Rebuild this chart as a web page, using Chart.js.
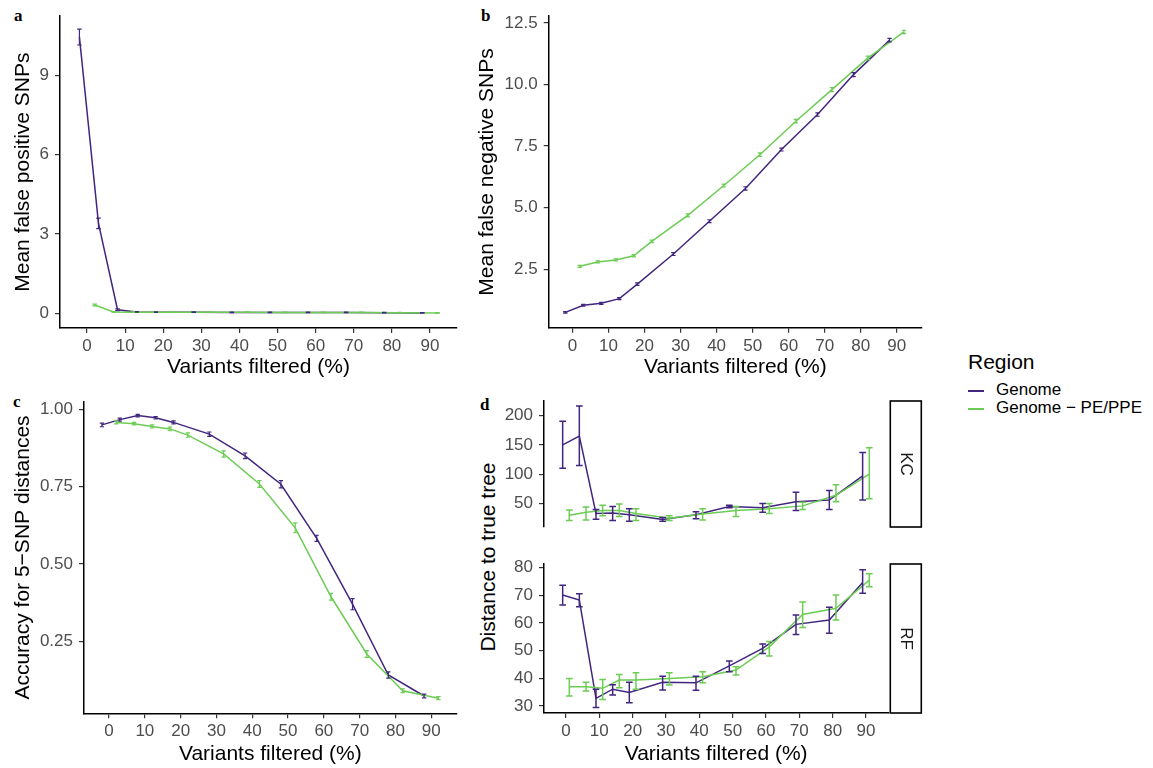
<!DOCTYPE html>
<html>
<head>
<meta charset="utf-8">
<script src="https://cdn.jsdelivr.net/npm/chart.js@4.4.0/dist/chart.umd.min.js"></script>
<style>
  body { margin: 0; background: #fff; width: 1153px; height: 768px; position: relative; overflow: hidden;
         font-family: "Liberation Sans", Arial, sans-serif; }
  canvas { position: absolute; }
  .tag { position: absolute; font: bold 17px/17px "Liberation Serif", serif; color: #000; }
  .txt { position: absolute; white-space: nowrap; color: #000; }
  .key { position: absolute; width: 16px; height: 2px; }
</style>
</head>
<body>
<div class="tag" style="left:14px; top:7px">a</div>
<div class="tag" style="left:481px; top:7px">b</div>
<div class="tag" style="left:13px; top:393px">c</div>
<div class="tag" style="left:480px; top:396px">d</div>

<div class="txt" style="left:488px; top:557px; font-size:21px; transform: translate(-50%, -50%) rotate(-90deg)">Distance to true tree</div>

<div class="txt" style="left:968px; top:349px; font-size:21px; line-height:25px">Region</div>
<div class="key" style="left:968px; top:390px; background:#41267F"></div>
<div class="txt" style="left:996px; top:380px; font-size:17px; line-height:20px">Genome</div>
<div class="key" style="left:968px; top:408px; background:#6CCC54"></div>
<div class="txt" style="left:996px; top:398px; font-size:17px; line-height:20px">Genome − PE/PPE</div>

<script>
const filtered = [0, 5, 10, 15, 20, 30, 40, 50, 60, 70, 80, 90];
const xTicks = [0, 10, 20, 30, 40, 50, 60, 70, 80, 90];
const regionNames = ['Genome', 'Genome − PE/PPE'];
const regionColors = ['#41267F', '#6CCC54'];

// a: mean false positive SNPs (mean and half error bar)
const fpGenome = [10.45, 3.4, 0.13, 0.05, 0.04, 0.04, 0.03, 0.03, 0.03, 0.03, 0.02, 0.01];
const fpGenomeErr = [0.3, 0.2, 0.03, 0.01, 0.01, 0.01, 0.01, 0.01, 0.01, 0.01, 0.01, 0.01];
const fpMasked = [0.31, 0.05, 0.04, 0.04, 0.04, 0.04, 0.04, 0.03, 0.03, 0.03, 0.02, 0.01];
const fpMaskedErr = [0.03, 0.01, 0.01, 0.01, 0.01, 0.01, 0.01, 0.01, 0.01, 0.01, 0.01, 0.01];
const fpTicks = [0, 3, 6, 9];

// b: mean false negative SNPs
const fnGenome = [0.75, 1.04, 1.12, 1.31, 1.9, 3.12, 4.45, 5.78, 7.36, 8.78, 10.4, 11.8];
const fnGenomeErr = [0.03, 0.04, 0.04, 0.04, 0.05, 0.06, 0.06, 0.07, 0.06, 0.07, 0.08, 0.07];
const fnMasked = [2.62, 2.8, 2.88, 3.05, 3.63, 4.69, 5.9, 7.15, 8.51, 9.79, 11.08, 12.13];
const fnMaskedErr = [0.04, 0.04, 0.04, 0.05, 0.05, 0.06, 0.06, 0.07, 0.07, 0.08, 0.07, 0.07];
const fnTicks = [2.5, 5, 7.5, 10, 12.5];
const fnLabels = ['2.5', '5.0', '7.5', '10.0', '12.5'];

// c: accuracy for 5-SNP distances
const accGenome = [0.95, 0.967, 0.98, 0.973, 0.958, 0.92, 0.85, 0.758, 0.583, 0.37, 0.141, 0.073];
const accGenomeErr = [0.006, 0.005, 0.004, 0.004, 0.005, 0.007, 0.009, 0.012, 0.01, 0.018, 0.01, 0.006];
const accMasked = [0.958, 0.954, 0.945, 0.937, 0.917, 0.856, 0.759, 0.617, 0.394, 0.209, 0.09, 0.066];
const accMaskedErr = [0.005, 0.004, 0.005, 0.006, 0.007, 0.01, 0.011, 0.016, 0.011, 0.011, 0.006, 0.005];
const accTicks = [0.25, 0.5, 0.75, 1];
const accLabels = ['0.25', '0.50', '0.75', '1.00'];

// d: distance to true tree, KC facet (mean, low, high)
const kcGenome = [150, 165, 33, 34, 31, 23, 31, 45, 43, 53, 56, 97];
const kcGenomeLo = [110, 115, 23, 21, 20, 20, 24, 43, 35, 38, 40, 56];
const kcGenomeHi = [190, 216, 40, 45, 41, 26, 36, 47, 50, 69, 72, 137];
const kcMasked = [30, 35, 38, 38, 33, 25, 32, 38, 41, 46, 64, 100];
const kcMaskedLo = [21, 22, 29, 28, 21, 21, 22, 28, 33, 40, 53, 58];
const kcMaskedHi = [39, 44, 47, 49, 41, 29, 41, 45, 50, 52, 82, 145];
const kcTicks = [50, 100, 150, 200];

// d: RF facet
const rfGenome = [70.1, 68.3, 32.8, 36.1, 34.9, 38.6, 38.4, 44.5, 50.8, 59.5, 61.1, 74.6];
const rfGenomeLo = [66.5, 65.9, 29.5, 34, 31.2, 35.8, 35.7, 42.4, 49, 55.8, 56.3, 70.7];
const rfGenomeHi = [73.6, 70.6, 36.1, 37.7, 38.6, 40.8, 40.8, 46.3, 52.4, 62.9, 65.7, 79.2];
const rfMasked = [37, 37, 36.4, 39.4, 39.4, 40, 40.6, 43, 51.4, 63.1, 65.3, 75.5];
const rfMaskedLo = [33.6, 35.4, 32.4, 36.6, 36.1, 37.6, 38.4, 41.2, 48.1, 58.4, 61.1, 73.1];
const rfMaskedHi = [40, 38.6, 39.6, 41.4, 42, 42, 42.4, 44.2, 53.3, 67.6, 70.1, 77.8];
const rfTicks = [30, 40, 50, 60, 70, 80];

Chart.defaults.font.family = '"Liberation Sans", Arial, sans-serif';

// vertical error bars with caps, drawn through the chart scales
const errorBars = {
  id: 'errorBars',
  afterDatasetsDraw(chart, args, opts) {
    const { ctx, scales: { x, y } } = chart;
    ctx.save();
    chart.data.datasets.forEach(ds => {
      ctx.strokeStyle = ds.borderColor;
      ctx.lineWidth = opts.width;
      ds.data.forEach((p, i) => {
        const px = x.getPixelForValue(p.x);
        const cap = x.getPixelForValue(p.x + opts.cap) - px;
        const y1 = y.getPixelForValue(ds.lo[i]);
        const y2 = y.getPixelForValue(ds.hi[i]);
        ctx.beginPath();
        ctx.moveTo(px, y1); ctx.lineTo(px, y2);
        ctx.moveTo(px - cap, y1); ctx.lineTo(px + cap, y1);
        ctx.moveTo(px - cap, y2); ctx.lineTo(px + cap, y2);
        ctx.stroke();
      });
    });
    ctx.restore();
  }
};

// facet strip on the right side of a panel
const strip = {
  id: 'strip',
  afterDraw(chart, args, opts) {
    if (!opts.label) return;
    const { ctx, chartArea: a } = chart;
    const left = a.right + 2, w = 31;
    ctx.save();
    ctx.fillStyle = '#fff';
    ctx.fillRect(left, a.top, w, a.bottom - a.top);
    ctx.strokeStyle = '#000';
    ctx.lineWidth = 1.6;
    ctx.strokeRect(left, a.top, w, a.bottom - a.top);
    ctx.translate(left + w / 2, (a.top + a.bottom) / 2);
    ctx.rotate(Math.PI / 2);
    ctx.fillStyle = '#1A1A1A';
    ctx.font = '17px "Liberation Sans", Arial, sans-serif';
    ctx.textAlign = 'center';
    ctx.textBaseline = 'middle';
    ctx.fillText(opts.label, 0, 0);
    ctx.restore();
  }
};

function series(means, lo, hi, dodge, k) {
  return {
    label: regionNames[k],
    data: filtered.map((f, i) => ({ x: f + dodge, y: means[i] })),
    lo: lo, hi: hi,
    borderColor: regionColors[k],
    borderWidth: 1.5,
    pointRadius: 0,
    tension: 0,
    fill: false,
    order: 2 - k
  };
}

function symmetric(means, err, dodge, k) {
  return series(means, means.map((m, i) => m - err[i]), means.map((m, i) => m + err[i]), dodge, k);
}

function makePanel(p) {
  const [cl, ct, cw, ch] = p.canvas;
  const [pl, pt, pr, pb] = p.plot;
  const cv = document.createElement('canvas');
  cv.width = cw; cv.height = ch;
  cv.style.left = cl + 'px';
  cv.style.top = ct + 'px';
  document.body.appendChild(cv);

  const axisBorder = { display: true, color: '#000', width: 1.5 };
  const tickGrid = { display: true, drawOnChartArea: false, drawTicks: true, tickLength: 5, tickColor: '#333', lineWidth: 1.2 };

  new Chart(cv, {
    type: 'line',
    data: { datasets: p.datasets },
    options: {
      responsive: false,
      animation: false,
      layout: { padding: { left: 0, top: pt - ct, right: cl + cw - pr, bottom: p.xTitle ? 0 : ct + ch - pb } },
      plugins: {
        legend: { display: false },
        tooltip: { enabled: false },
        errorBars: { cap: p.cap, width: p.barWidth },
        strip: { label: p.strip }
      },
      scales: {
        x: {
          type: 'linear',
          display: !!p.xTitle,
          min: p.xRange[0], max: p.xRange[1],
          afterBuildTicks: s => { s.ticks = xTicks.map(v => ({ value: v })); },
          afterFit: s => { s.height = ct + ch - pb; },
          ticks: { color: '#4D4D4D', font: { size: 17 }, padding: 3, maxRotation: 0, autoSkip: false },
          grid: tickGrid,
          border: axisBorder,
          title: { display: !!p.xTitle, text: p.xTitle, color: '#000', font: { size: 21 }, padding: { top: 0, bottom: p.xTitlePad } }
        },
        y: {
          min: p.yRange[0], max: p.yRange[1],
          afterBuildTicks: s => { s.ticks = p.yTicks.map(v => ({ value: v })); },
          afterFit: s => { s.width = pl - cl; },
          ticks: {
            color: '#4D4D4D', font: { size: 17 }, padding: 6, autoSkip: false,
            callback: v => p.yLabels ? p.yLabels[p.yTicks.indexOf(v)] : String(v)
          },
          grid: tickGrid,
          border: axisBorder,
          title: { display: !!p.yTitle, text: p.yTitle, color: '#000', font: { size: 21 }, padding: { top: p.yTitlePad, bottom: 0 } }
        }
      }
    },
    plugins: [errorBars, strip]
  });
}

makePanel({
  canvas: [0, 0, 470, 385], plot: [60, 13, 457, 328],
  xRange: [-7.1, 97.1], yRange: [-0.56, 11.24], yTicks: fpTicks,
  yTitle: 'Mean false positive SNPs', yTitlePad: 10.5,
  xTitle: 'Variants filtered (%)', xTitlePad: 5.5,
  cap: 0.6, barWidth: 1.2,
  datasets: [symmetric(fpGenome, fpGenomeErr, -2, 0), symmetric(fpMasked, fpMaskedErr, 2, 1)]
});

makePanel({
  canvas: [470, 0, 465, 385], plot: [548.7, 13, 922, 327.7],
  xRange: [-6.6, 97], yRange: [0.13, 12.77], yTicks: fnTicks, yLabels: fnLabels,
  yTitle: 'Mean false negative SNPs', yTitlePad: 4.5,
  xTitle: 'Variants filtered (%)', xTitlePad: 5.5,
  cap: 0.6, barWidth: 1.2,
  datasets: [symmetric(fnGenome, fnGenomeErr, -2, 0), symmetric(fnMasked, fnMaskedErr, 2, 1)]
});

makePanel({
  canvas: [0, 385, 470, 383], plot: [84, 401.7, 456.7, 713.3],
  xRange: [-7, 97.1], yRange: [0.017, 1.025], yTicks: accTicks, yLabels: accLabels,
  yTitle: 'Accuracy for 5−SNP distances', yTitlePad: 10.5,
  xTitle: 'Variants filtered (%)', xTitlePad: 1,
  cap: 0.6, barWidth: 1.2,
  datasets: [symmetric(accGenome, accGenomeErr, -2, 0), symmetric(accMasked, accMaskedErr, 2, 1)]
});

makePanel({
  canvas: [470, 380, 465, 195], plot: [544, 401, 888.3, 551],
  xRange: [-6.6, 96.7], yRange: [10, 224.7], yTicks: kcTicks,
  cap: 1, barWidth: 1.5, strip: 'KC',
  datasets: [series(kcGenome, kcGenomeLo, kcGenomeHi, -1, 0), series(kcMasked, kcMaskedLo, kcMaskedHi, 1, 1)]
});

makePanel({
  canvas: [470, 540, 465, 228], plot: [544, 564, 888.3, 713],
  xRange: [-6.6, 96.7], yRange: [27.5, 81.3], yTicks: rfTicks,
  xTitle: 'Variants filtered (%)', xTitlePad: 1,
  cap: 1, barWidth: 1.5, strip: 'RF',
  datasets: [series(rfGenome, rfGenomeLo, rfGenomeHi, -1, 0), series(rfMasked, rfMaskedLo, rfMaskedHi, 1, 1)]
});
</script>
</body>
</html>
